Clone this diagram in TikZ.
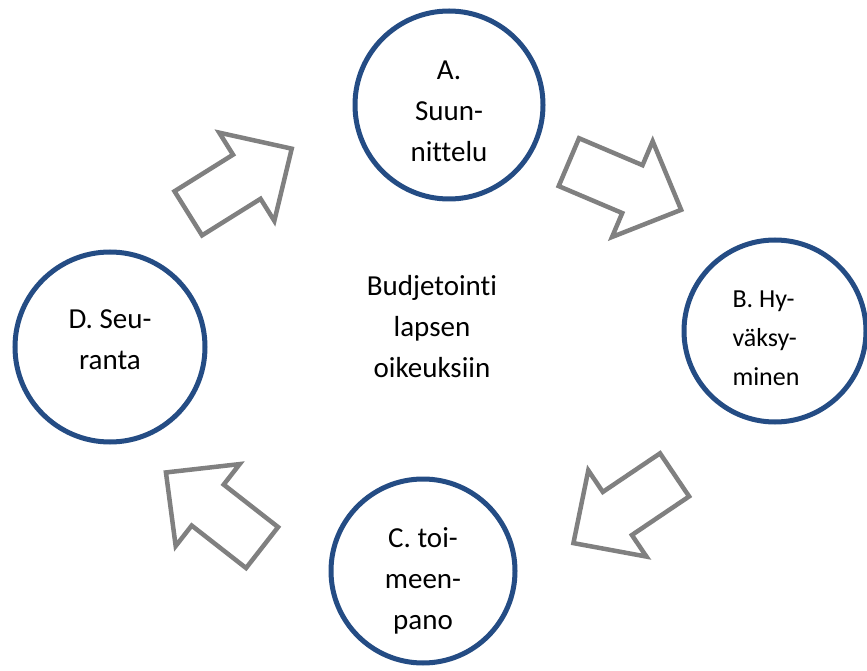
\documentclass[tikz,border=0pt]{standalone}
\usepackage{fontspec}
\setmainfont{Carlito}[Ligatures=NoCommon]
\usepackage{xcolor}
\usepackage{tikz}
\definecolor{cnavy}{RGB}{36,76,132}
\definecolor{cgray}{RGB}{128,128,128}
\tikzset{
  phase/.style={circle, draw=cnavy, line width=5pt, fill=white,
                inner sep=0pt, minimum size=#1},
  big/.style={font=\fontsize{29}{41}\selectfont, align=center},
  small/.style={font=\fontsize{26}{39}\selectfont, align=left},
  blockarr/.pic={
    \draw[draw=cgray, fill=white, line width=4.5pt, miter limit=10]
      (-61,-26) -- (8,-26) -- (8,-52) -- (61,0) -- (8,52) -- (8,26) -- (-61,26) -- cycle;
  },
}

\begin{document}
\begin{tikzpicture}[x=1pt, y=1pt]
  \useasboundingbox (0,0) rectangle (867,670);

  % ── Phases ─────────────────────────────────────────────────────────────────
  \node[phase=188pt] at (449,565) (suun) {};
  \node[phase=182pt] at (775,339) (hyv)  {};
  \node[phase=184pt] at (423,99)  (toim) {};
  \node[phase=190pt] at (110,323) (seur) {};

  % ── Phase texts ────────────────────────────────────────────────────────────
  \node[big]   at ([yshift=-6pt]suun.center)              (suunT) {A.\\Suun-\\nittelu};
  \node[small] at ([xshift=-9pt, yshift=-7pt]hyv.center)  (hyvT)  {B. Hy-\\väksy-\\minen};
  \node[big]   at ([yshift=-10pt]toim.center)             (toimT) {C. toi-\\meen-\\pano};
  \node[big]   at ([yshift=7pt]seur.center)               (seurT) {D. Seu-\\ranta};

  % ── Centre ─────────────────────────────────────────────────────────────────
  \node[big] at (432,343) (budj) {Budjetointi\\lapsen\\oikeuksiin};

  % ── Cycle arrows ───────────────────────────────────────────────────────────
  \pic[rotate=32]  at (240,489) {blockarr};
  \pic[rotate=-23] at (625,484) {blockarr};
  \pic[rotate=214] at (624,161) {blockarr};
  \pic[rotate=142] at (214,160) {blockarr};
\end{tikzpicture}
\end{document}
